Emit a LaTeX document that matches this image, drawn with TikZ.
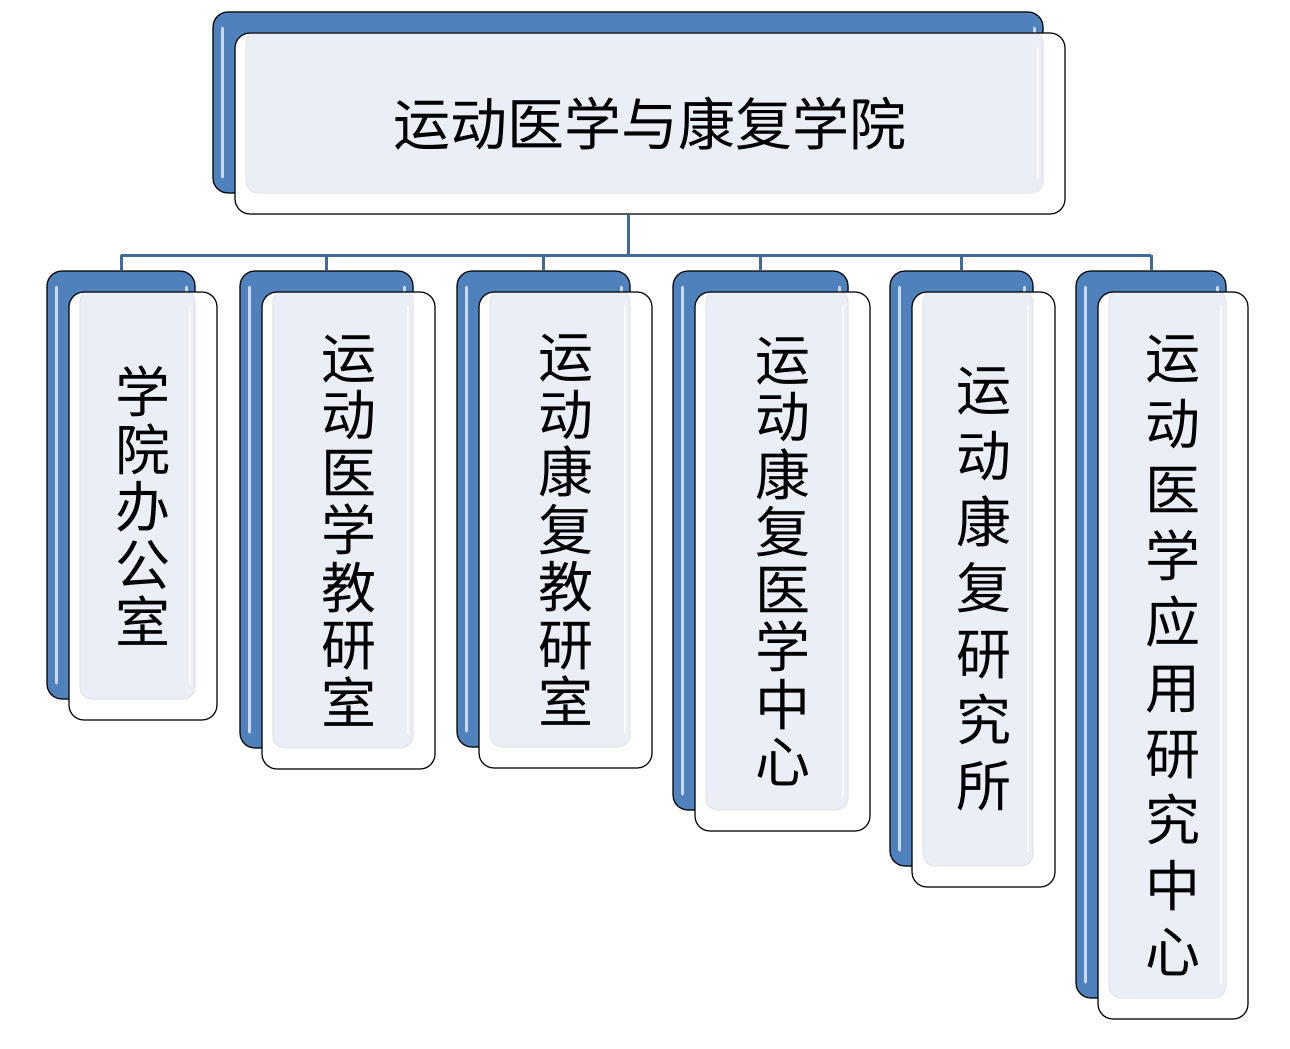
\documentclass[tikz,border=0pt]{standalone}
\usepackage{fontspec}
\newfontfamily\cjk{Noto Sans CJK SC}
\definecolor{backblue}{RGB}{79,129,189}
\definecolor{glossfill}{RGB}{234,239,247}
\definecolor{linkblue}{RGB}{65,105,156}

\begin{document}
\begin{tikzpicture}[
    x=1pt, y=-1pt,
    back/.style={
        draw=black, line width=1.2pt, rounded corners=15pt, fill=backblue, inner sep=0pt,
        path picture={
            \draw[white!70!backblue, line width=3pt, line cap=round]
                ([shift={(9pt,-16pt)}]path picture bounding box.north west) --
                ([shift={(9pt,16pt)}]path picture bounding box.south west);
            \draw[white!70!backblue, line width=3pt, line cap=round]
                ([shift={(-9pt,-16pt)}]path picture bounding box.north east) --
                ([shift={(-9pt,-26pt)}]path picture bounding box.north east);
        }
    },
    front/.style={
        draw=black, line width=1.2pt, rounded corners=15pt, fill=white, inner sep=0pt, align=center,
        font=\cjk\fontsize{55pt}{57.5pt}\selectfont,
        path picture={
            \filldraw[fill=glossfill, draw=black!10, rounded corners=12pt]
                ([shift={(11pt,2pt)}]path picture bounding box.north west) rectangle
                ([shift={(-22pt,21pt)}]path picture bounding box.south east);
            \draw[white, line width=2pt, opacity=.8, line cap=round]
                ([shift={(-27pt,-14pt)}]path picture bounding box.north east) --
                ([shift={(-27pt,36pt)}]path picture bounding box.south east);
        }
    },
    tall/.style={font=\cjk\fontsize{55pt}{66pt}\selectfont},
    link/.style={draw=linkblue, line width=3pt},
]
\fill[white] (0,0) rectangle (1290,1049);
\useasboundingbox (0,0) rectangle (1290,1049);
% ---------- top : college ----------
\node[back, minimum width=830pt, minimum height=181pt] (b0) at (628,102.5) {};
\node[front, minimum width=830pt, minimum height=181pt, font=\cjk\fontsize{57pt}{60pt}\selectfont]
    (f0) at ([shift={(22pt,-21pt)}]b0.center) {运动医学与康复学院};
% ---------- children : back plates ----------
\node[back, minimum width=148pt, minimum height=428pt] (b1) at (121,485)    {};
\node[back, minimum width=173pt, minimum height=477pt] (b2) at (326.5,509.5) {};
\node[back, minimum width=173pt, minimum height=476pt] (b3) at (543.5,509)  {};
\node[back, minimum width=175pt, minimum height=539pt] (b4) at (760.5,540.5) {};
\node[back, minimum width=143pt, minimum height=595pt] (b5) at (961.5,568.5) {};
\node[back, minimum width=150pt, minimum height=727pt] (b6) at (1151,634.5) {};
% ---------- children : front cards ----------
\node[front, minimum width=148pt, minimum height=428pt] (f1) at ([shift={(22pt,-21pt)}]b1.center)
    {学\\院\\办\\公\\室};
\node[front, minimum width=173pt, minimum height=477pt] (f2) at ([shift={(22pt,-21pt)}]b2.center)
    {运\\动\\医\\学\\教\\研\\室};
\node[front, minimum width=173pt, minimum height=476pt] (f3) at ([shift={(22pt,-21pt)}]b3.center)
    {运\\动\\康\\复\\教\\研\\室};
\node[front, minimum width=175pt, minimum height=539pt] (f4) at ([shift={(22pt,-21pt)}]b4.center)
    {运\\动\\康\\复\\医\\学\\中\\心};
\node[front, tall, minimum width=143pt, minimum height=595pt] (f5) at ([shift={(22pt,-21pt)}]b5.center)
    {运\\动\\康\\复\\研\\究\\所};
\node[front, tall, minimum width=150pt, minimum height=727pt] (f6) at ([shift={(22pt,-21pt)}]b6.center)
    {运\\动\\医\\学\\应\\用\\研\\究\\中\\心};
% ===================== LINKS =====================
\coordinate (bus) at (628,255);
\draw[link] (b0.center |- f0.south) -- (bus);
\draw[link] (b1.north |- bus) -- (b6.north |- bus);
\draw[link] (b1.north |- bus) -- (b1.north);
\draw[link] (b2.north |- bus) -- (b2.north);
\draw[link] (b3.north |- bus) -- (b3.north);
\draw[link] (b4.north |- bus) -- (b4.north);
\draw[link] (b5.north |- bus) -- (b5.north);
\draw[link] (b6.north |- bus) -- (b6.north);
\end{tikzpicture}
\end{document}
